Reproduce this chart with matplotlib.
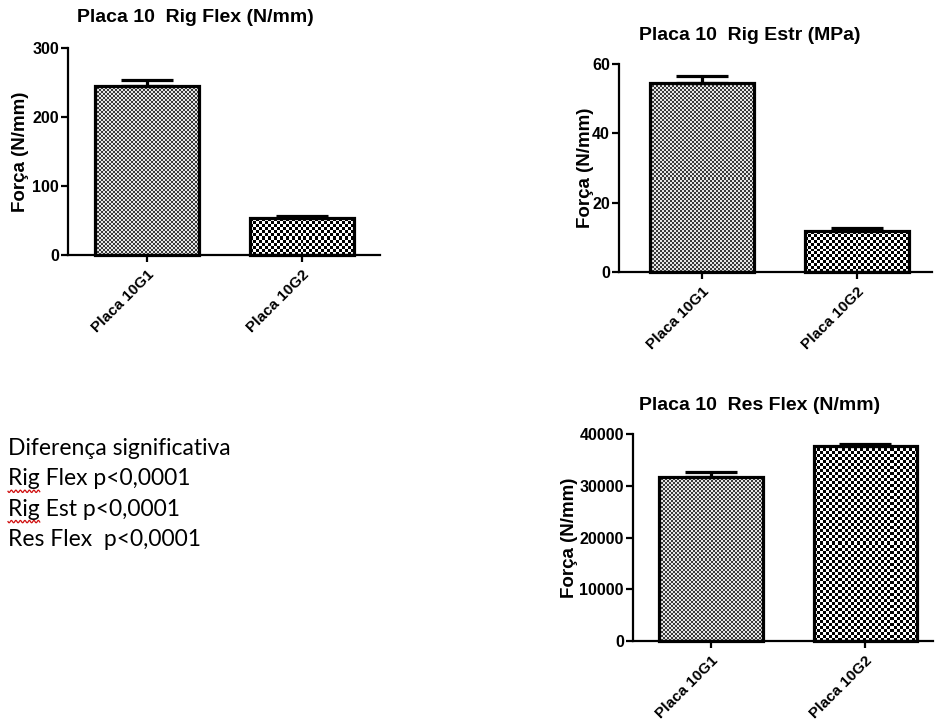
"""
Placa 10 comparison: three bar charts (G1 vs G2) with SEM error bars
and the significance note on the left.
"""
import matplotlib

matplotlib.use("Agg")
import matplotlib.pyplot as plt
import numpy as np
from matplotlib.colors import ListedColormap

W, H, DPI = 935, 721, 100

categories = ["Placa 10G1", "Placa 10G2"]

rig_flex_mean = [245, 53.5]
rig_flex_err = [9, 3]

rig_estr_mean = [54.5, 11.8]
rig_estr_err = [2.0, 0.9]

res_flex_mean = [31700, 37700]
res_flex_err = [950, 380]

titles = [
    "Placa 10  Rig Flex (N/mm)",
    "Placa 10  Rig Estr (MPa)",
    "Placa 10  Res Flex (N/mm)",
]
ylabel = "Força (N/mm)"
yticks_rig_flex = [0, 100, 200, 300]
yticks_rig_estr = [0, 20, 40, 60]
yticks_res_flex = [0, 10000, 20000, 30000, 40000]

notes = [
    "Diferença significativa",
    "Rig Flex p<0,0001",
    "Rig Est p<0,0001",
    "Res Flex  p<0,0001",
]
underlined = [None, "Rig", "Rig", None]

FONT = "Liberation Sans"
NOTE_FONT = "Lato"


def px_box(x0, y_top, x1, y_bottom):
    """Axes rectangle from pixel coords (origin top-left)."""
    return [x0 / W, 1 - y_bottom / H, (x1 - x0) / W, (y_bottom - y_top) / H]


def checker_fill(ax, bar, cell_px, c0, c1):
    x0, y0 = bar.get_x(), bar.get_y()
    w, h = bar.get_width(), bar.get_height()
    p0 = ax.transData.transform((x0, y0))
    p1 = ax.transData.transform((x0 + w, y0 + h))
    nx = max(1, int(round((p1[0] - p0[0]) / cell_px)))
    ny = max(1, int(round((p1[1] - p0[1]) / cell_px)))
    grid = np.add.outer(np.arange(ny), np.arange(nx)) % 2
    ax.imshow(grid, extent=(x0, x0 + w, y0, y0 + h), cmap=ListedColormap([c0, c1]),
              interpolation="nearest", aspect="auto", zorder=2)


def bar_panel(fig, box, means, errs, yticks, xlim, title, title_xy, ylabel_x):
    ax = fig.add_axes(box)
    x = np.arange(len(categories))
    ax.set_xlim(*xlim)
    ax.set_ylim(yticks[0], yticks[-1])
    bars = ax.bar(x, means, width=0.67, facecolor="none", edgecolor="black",
                  linewidth=2.3, zorder=3, clip_on=False)
    checker_fill(ax, bars[0], 2.0, "#3a3a3a", "#e6e6e6")
    checker_fill(ax, bars[1], 3.0, "black", "white")
    ax.errorbar(x, means, yerr=[np.zeros(len(errs)), errs], fmt="none",
                ecolor="black", elinewidth=2.3, capsize=19, capthick=2.3, zorder=4)
    ax.set_xlim(*xlim)
    ax.set_ylim(yticks[0], yticks[-1])

    for side in ("top", "right"):
        ax.spines[side].set_visible(False)
    for side in ("left", "bottom"):
        ax.spines[side].set_linewidth(1.6)
    ax.set_yticks(yticks)
    ax.set_xticks(x)
    ax.set_xticklabels(categories, rotation=45, ha="right", rotation_mode="anchor")
    ax.tick_params(direction="out", length=5, width=1.6)
    ax.tick_params(axis="y", pad=1.5)
    ax.tick_params(axis="x", pad=4)
    for lab in ax.get_yticklabels():
        lab.set_fontfamily(FONT)
        lab.set_fontweight("bold")
        lab.set_fontsize(11.5)
    for lab in ax.get_xticklabels():
        lab.set_fontfamily(FONT)
        lab.set_fontweight("bold")
        lab.set_fontsize(11)
    ax.set_facecolor("none")

    fig.text(title_xy[0] / W, 1 - title_xy[1] / H, title, ha="center", va="center",
             fontsize=14, fontweight="bold", fontfamily=FONT)
    fig.text(ylabel_x / W, box[1] + box[3] / 2, ylabel, rotation=90, ha="center",
             va="center", fontsize=13.5, fontweight="bold", fontfamily=FONT)
    return ax


fig = plt.figure(figsize=(W / DPI, H / DPI), dpi=DPI)

bar_panel(fig, px_box(68, 48, 380, 255), rig_flex_mean, rig_flex_err,
          yticks_rig_flex, (-0.51, 1.50), titles[0], (195, 18), 21)
bar_panel(fig, px_box(619, 64, 932, 272), rig_estr_mean, rig_estr_err,
          yticks_rig_estr, (-0.535, 1.484), titles[1], (750, 35), 585)
bar_panel(fig, px_box(633, 434, 933, 641), res_flex_mean, res_flex_err,
          yticks_res_flex, (-0.506, 1.44), titles[2], (760, 405), 570)

# significance note, with the spell-check squiggle under "Rig"
renderer = fig.canvas.get_renderer()
for i, (line, word) in enumerate(zip(notes, underlined)):
    base_y = 455 + i * 30.3
    fig.text(8 / W, 1 - base_y / H, line, ha="left", va="baseline",
             fontsize=16.5, fontfamily=NOTE_FONT)
    if word:
        tmp = fig.text(8 / W, 0.5, word, fontsize=16.5, fontfamily=NOTE_FONT)
        wpx = tmp.get_window_extent(renderer).width
        tmp.remove()
        xs = np.linspace(8, 8 + wpx, 60)
        ys = base_y + 6 + 1.2 * np.sin((xs - 8) / 4.5 * 2 * np.pi)
        fig.add_artist(plt.Line2D(xs / W, 1 - ys / H, color="#d01010", linewidth=0.9,
                                  transform=fig.transFigure))

fig.savefig("out.png", dpi=DPI)
